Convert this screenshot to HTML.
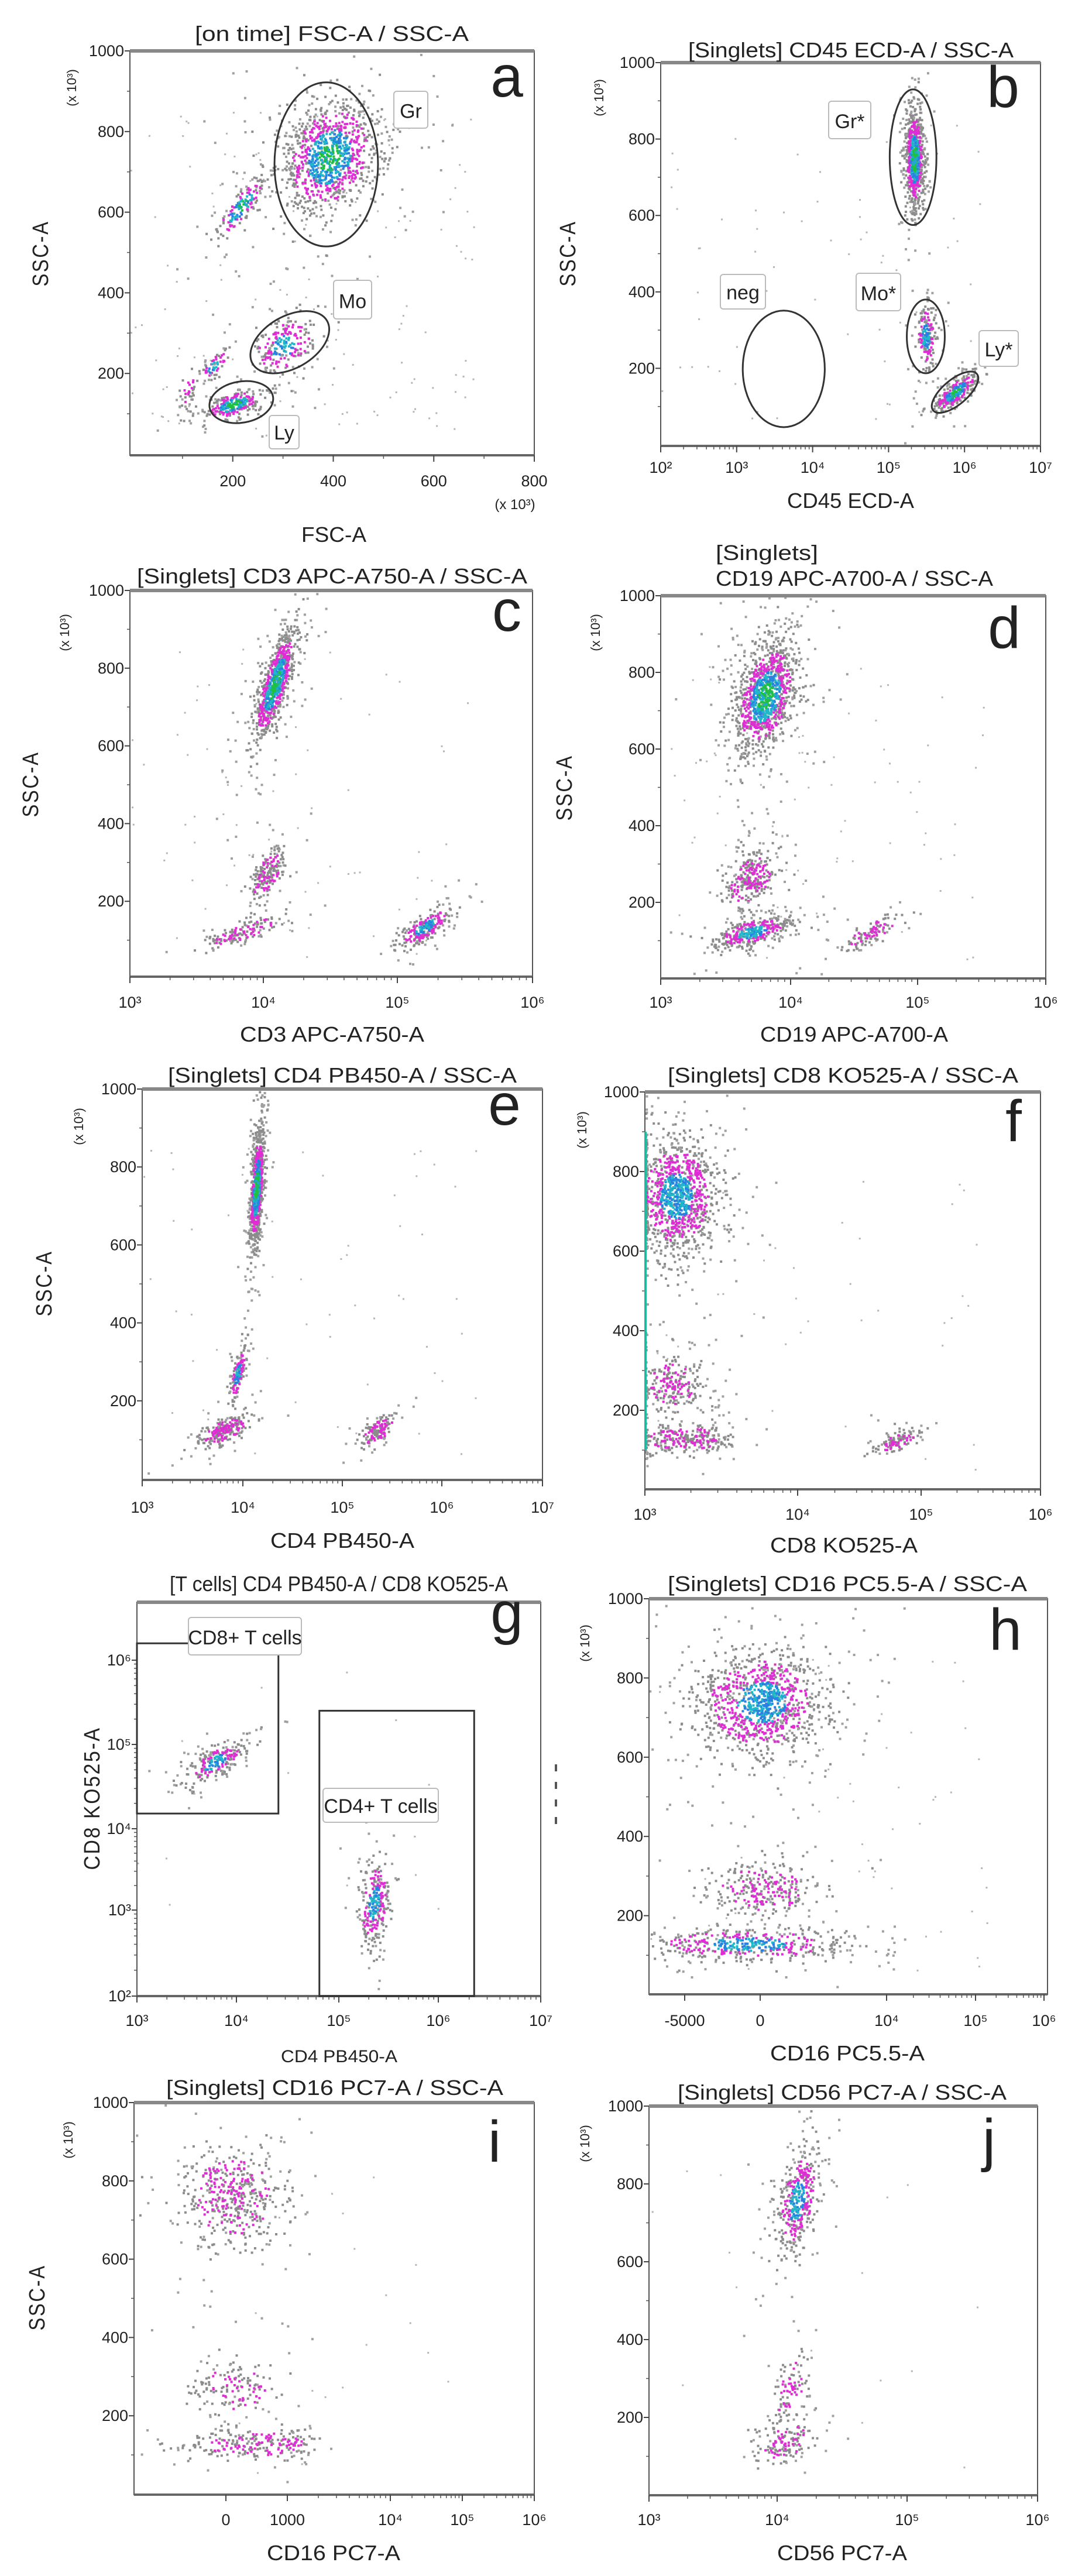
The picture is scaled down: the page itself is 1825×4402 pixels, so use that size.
<!DOCTYPE html>
<html><head><meta charset="utf-8"><title>Flow cytometry panels</title>
<style>
html,body{margin:0;padding:0;background:#fff;}
svg{display:block;}
text{font-family:"Liberation Sans Narrow","Liberation Sans",sans-serif;fill:#222;}
</style></head>
<body>
<svg id="fig" xmlns="http://www.w3.org/2000/svg" width="1825" height="4402" viewBox="0 0 1825 4402">
<rect x="0" y="0" width="1825" height="4402" fill="#fff"/>
</svg>
<script>
// ---------- DATA (cluster centres / spreads / counts per panel) ----------
const aCx=[390,215,160,110,300,200];
const aCy=[740,615,220,150,270,125];
const aSx=[45,14,10,10,30,24];
const aSy=[70,38,20,30,35,18];
const aN=[1100,170,60,40,230,270];
const aHeat=[3,3,2,1,2,3];
const aTilt=[0.2,1.5,1,0.5,0.3,0.6];
const bCx=[5.33,5.48,5.87];
const bCy=[750,285,140];
const bSx=[0.06,0.06,0.09];
const bSy=[65,40,25];
const bN=[800,200,300];
const bHeat=[3,2,3];
const bTilt=[0,0,1.2];
const cCx=[4.08,4.02,3.85,5.2];
const cCy=[760,270,125,135];
const cSx=[0.05,0.05,0.09,0.06];
const cSy=[70,35,20,25];
const cN=[900,200,150,250];
const cHeat=[3,1,1,2];
const cTilt=[1.2,0.8,1.2,1.2];
const dCx=[3.8,3.68,3.7,4.63];
const dCy=[740,260,125,125];
const dSx=[0.11,0.09,0.12,0.07];
const dSy=[70,40,20,22];
const dN=[1200,300,400,120];
const dHeat=[3,1,2,1];
const dTilt=[0.4,0.3,0.6,1.2];
const eCx=[4.13,3.94,3.8,5.35];
const eCy=[750,270,125,125];
const eSx=[0.03,0.03,0.1,0.07];
const eSy=[75,35,20,20];
const eN=[900,150,250,150];
const eHeat=[3,2,1,1];
const eTilt=[0.6,1,0.8,0.8];
const fCx=[3.2,3.18,3.25,4.8];
const fCy=[740,265,130,125];
const fSx=[0.13,0.1,0.14,0.07];
const fSy=[70,35,18,15];
const fN=[1200,250,300,120];
const fHeat=[2,1,1,1];
const fTilt=[0,0,0,0.8];
const gCx=[3.78,5.35];
const gCy=[4.8,3.1];
const gSx=[0.1,0.07];
const gSy=[0.12,0.25];
const gN=[250,300];
const gHeat=[2,2];
const gTilt=[1,0.3];
const hCx=[200,300,-800];
const hCy=[740,270,130];
const hSx=[2200,1800,3500];
const hSy=[65,35,20];
const hN=[1200,300,500];
const hHeat=[2,1,2];
const hTilt=[0,0,0];
const iCx=[100,100,500];
const iCy=[760,275,130];
const iSx=[400,330,600];
const iSy=[60,35,18];
const iN=[500,150,250];
const iHeat=[1,1,1];
const iTilt=[0,0,0];
const jCx=[4.15,4.1,4.05];
const jCy=[760,275,140];
const jSx=[0.07,0.06,0.1];
const jSy=[65,45,30];
const jN=[450,100,150];
const jHeat=[2,1,1];
const jTilt=[0.5,0.5,0.5];
const linYTicks=[200,400,600,800,1000];
const aXTicks=[200,400,600,800];
const supDigits={2:'²',3:'³',4:'⁴',5:'⁵',6:'⁶',7:'⁷'};
const hXTickVals=[-5000,0,1e4,1e5,1e6];
const hXTickLabels=['-5000','0','10⁴','10⁵','10⁶'];
const iXTickVals=[0,1000,1e4,1e5,1e6];
const iXTickLabels=['0','1000','10⁴','10⁵','10⁶'];

const NS='http://www.w3.org/2000/svg';
const svg=document.getElementById('fig');
function el(tag,parent,attrs){const e=document.createElementNS(NS,tag);for(const k in attrs)e.setAttribute(k,attrs[k]);parent.appendChild(e);return e;}
function interp(tk,px){return function(t){let i=0;while(i<tk.length-2&&t>tk[i+1])i++;return px[i]+(t-tk[i])*(px[i+1]-px[i])/(tk[i+1]-tk[i]);};}
let seed=12345;
function rnd(){seed|=0;seed=seed+0x6D2B79F5|0;let t=Math.imul(seed^seed>>>15,1|seed);t=t+Math.imul(t^t>>>7,61|t)^t;return((t^t>>>14)>>>0)/4294967296;}
function gauss(){let u=0,v=0;while(u===0)u=rnd();while(v===0)v=rnd();return Math.sqrt(-2*Math.log(u))*Math.cos(2*Math.PI*v);}
const hTf=v=>v<=1e4?v/1e4:Math.log10(v)-3;
const iTf=v=>v<=1000?v/1000:Math.log10(v)-2;

const P={
 a:{L:222,R:913,T:87,B:778,x:interp([0,800],[226,913]),y:interp([0,1000],[776,87]),tf:v=>v},
 b:{L:1129,R:1778,T:107,B:762,x:interp([2,7],[1129,1778]),y:interp([0,1000],[760,107]),tf:v=>v},
 c:{L:222,R:910,T:1009,B:1669,x:interp([3,4,5,6],[222,450,679,910]),y:interp([0,1000],[1673,1009]),tf:v=>v},
 d:{L:1129,R:1787,T:1018,B:1672,x:interp([3,4,5,6],[1129,1351,1568,1787]),y:interp([0,1000],[1673,1018]),tf:v=>v},
 e:{L:243,R:927,T:1861,B:2529,x:interp([3,4,5,6,7],[243,415,585,755,927]),y:interp([0,1000],[2527,1861]),tf:v=>v},
 f:{L:1102,R:1778,T:1866,B:2545,x:interp([3,4,5,6],[1102,1363,1574,1778]),y:interp([0,1000],[2546,1866]),tf:v=>v},
 g:{L:234,R:924,T:2738,B:3411,x:interp([3,4,5,6,7],[234,404,579,749,924]),y:interp([2,3,4,5,6],[3411,3264,3125,2981,2837]),tf:v=>v},
 h:{L:1109,R:1790,T:2732,B:3408,x:interp([-0.5,0,1,2,3],[1170,1299,1515,1667,1784]),y:interp([0,1000],[3409,2732]),tf:hTf},
 i:{L:229,R:913,T:3593,B:4263,x:interp([0,1,2,3,4],[386,491,667,790,913]),y:interp([0,1000],[4262,3593]),tf:iTf},
 j:{L:1109,R:1773,T:3599,B:4264,x:interp([3,4,5,6],[1109,1328,1550,1773]),y:interp([0,1000],[4264,3599]),tf:v=>v}
};
const DATA={
 a:[aCx,aCy,aSx,aSy,aN,aHeat,aTilt,150],b:[bCx,bCy,bSx,bSy,bN,bHeat,bTilt,70],
 c:[cCx,cCy,cSx,cSy,cN,cHeat,cTilt,75],d:[dCx,dCy,dSx,dSy,dN,dHeat,dTilt,75],
 e:[eCx,eCy,eSx,eSy,eN,eHeat,eTilt,60],f:[fCx,fCy,fSx,fSy,fN,fHeat,fTilt,40],
 g:[gCx,gCy,gSx,gSy,gN,gHeat,gTilt,15],h:[hCx,hCy,hSx,hSy,hN,hHeat,hTilt,55],
 i:[iCx,iCy,iSx,iSy,iN,iHeat,iTilt,20],j:[jCx,jCy,jSx,jSy,jN,jHeat,jTilt,15]
};

function colorFor(r,heat){
 if(heat>=3&&r<0.5)return rnd()<0.7?'#20c040':'#20a8d0';
 if(heat>=2&&r<(heat>=3?0.95:0.8))return rnd()<0.5?'#2a80e0':'#20b8c8';
 if(r<1.6&&rnd()<(heat>=2?0.7:0.45))return '#e02cd4';
 return '#8c8c8c';
}

for(const k in P){
 const p=P[k];const D=DATA[k];
 const g=el('g',svg,{});
 
 
 const dots=el('g',g,{});
 
 
 const [cx,cy,sx,sy,n,heat,tilt,bg]=D;
 for(let q=0;q<bg;q++){
  const X=p.L+rnd()*(p.R-p.L)*0.85,Y=p.T+(p.B-p.T)*(0.15+rnd()*0.8);
  const d=el('rect',dots,{x:X.toFixed(1),y:Y.toFixed(1),width:3,height:3,fill:'#b5b5b5'});
  
  
 }
 for(let c=0;c<cx.length;c++){
  const frag=[];
  for(let q=0;q<n[c];q++){
   const halo=rnd()<0.18;const m=halo?2.1:1;
   const g1=gauss(),g2=gauss();
   let vx=cx[c]+sx[c]*m*(g1+tilt[c]*g2);
   let vy=cy[c]+sy[c]*m*g2;
   let X=p.x(p.tf(vx)),Y=p.y(vy);
   if(k==='f'&&X<p.L)X=p.L+rnd()*3;
   if(X<p.L||X>p.R-3||Y<p.T||Y>p.B-3)continue;
   const col=halo?'#a0a0a0':colorFor(Math.sqrt(g1*g1+g2*g2),heat[c]);
   frag.push({X,Y,col});
  }
  const order={'#a0a0a0':0,'#8c8c8c':0,'#e02cd4':1,'#2a80e0':2,'#20b8c8':2,'#20c040':3,'#20a8d0':3};
  frag.sort((u,v)=>order[u.col]-order[v.col]);
  const cg=el('g',dots,{});
  
  
  for(const f of frag){
   const d=el('rect',cg,{x:f.X.toFixed(1),y:f.Y.toFixed(1),width:4,height:4,fill:f.col});
   
   
  }
 }
 const fr=el('rect',g,{x:p.L,y:p.T,width:p.R-p.L,height:p.B-p.T,fill:'none',stroke:'#555','stroke-width':2});
 
 
 const tl=el('line',g,{x1:p.L,y1:p.T,x2:p.R,y2:p.T,stroke:'#888','stroke-width':6});
 
 
 const bl=el('line',g,{x1:p.L,y1:p.B,x2:p.R,y2:p.B,stroke:'#666','stroke-width':4});
 
 
}

function ytxt(p,val,lab,name){
 const Y=p.y(val);
 const t=el('line',svg,{x1:p.L-9,y1:Y,x2:p.L,y2:Y,stroke:'#444','stroke-width':2});
 
 
 const tx=el('text',svg,{x:p.L-10,y:Y+9,'text-anchor':'end','font-size':27});
 tx.textContent=lab;
 
 
}
function xtxt(p,X,lab,base){
 const t=el('line',svg,{x1:X,y1:p.B,x2:X,y2:p.B+11,stroke:'#444','stroke-width':2});
 
 
 const tx=el('text',svg,{x:X,y:base,'text-anchor':'middle','font-size':27});
 tx.textContent=lab;
 
 
}
function minorX(p,X){const m=el('line',svg,{x1:X,y1:p.B,x2:X,y2:p.B+6,stroke:'#555','stroke-width':1.5});}
const tickBase={a:831,b:808,c:1722,d:1722,e:2585,f:2597,g:3462,h:3462,i:4315,j:4315};
for(const k in P){
 const p=P[k];
 if(k!=='g'){
  for(let v=100;v<1000;v+=200){const Y=p.y(v);const m=el('line',svg,{x1:p.L-5,y1:Y,x2:p.L,y2:Y,stroke:'#555','stroke-width':1.5});}
  for(const v of linYTicks)ytxt(p,v,String(v),'y-tick-label');
 }
}
for(let e=2;e<=6;e++){ytxt(P.g,e,'10'+supDigits[e],'y-tick-label');
 if(e<6)for(let m=2;m<10;m++){const Y=P.g.y(e+Math.log10(m));const t=el('line',svg,{x1:P.g.L-5,y1:Y,x2:P.g.L,y2:Y,stroke:'#555','stroke-width':1.5});}}
for(const v of aXTicks)xtxt(P.a,P.a.x(v),String(v),tickBase.a);
for(let v=100;v<800;v+=200)minorX(P.a,P.a.x(v));
const logRanges={b:[2,7],c:[3,6],d:[3,6],e:[3,7],f:[3,6],g:[3,7],j:[3,6]};
for(const k in logRanges){
 const p=P[k],[lo,hi]=logRanges[k];
 for(let e=lo;e<=hi;e++){
  xtxt(p,p.x(e),'10'+supDigits[e],tickBase[k]);
  if(e<hi)for(let m=2;m<10;m++)minorX(p,p.x(e+Math.log10(m)));
 }
}
hXTickVals.forEach((v,i)=>xtxt(P.h,P.h.x(hTf(v)),hXTickLabels[i],tickBase.h));
for(let e=4;e<6;e++)for(let m=2;m<10;m++)minorX(P.h,P.h.x(hTf(m*Math.pow(10,e))));
iXTickVals.forEach((v,i)=>xtxt(P.i,P.i.x(iTf(v)),iXTickLabels[i],tickBase.i));
for(let e=3;e<6;e++)for(let m=2;m<10;m++)minorX(P.i,P.i.x(iTf(m*Math.pow(10,e))));

function gate(k,x0,x1,y0,y1,rot,name){
 const p=P[k];const X0=p.x(x0),X1=p.x(x1),Y0=p.y(y0),Y1=p.y(y1);
 const cxp=(X0+X1)/2,cyp=(Y0+Y1)/2;
 const e=el('ellipse',svg,{cx:cxp,cy:cyp,rx:Math.abs(X1-X0)/2,ry:Math.abs(Y1-Y0)/2,fill:'none',stroke:'#333','stroke-width':3,transform:'rotate('+rot+' '+cxp+' '+cyp+')'});
 
 
}
gate('a',283,489,515,922,0,'gate-gr');
gate('a',228,399,213,342,-30,'gate-mo');
gate('a',153,281,78,180,-10,'gate-ly');
gate('b',5.015,5.63,575,930,0,'gate-gr-star');
gate('b',5.24,5.74,187,380,0,'gate-mo-star');
gate('b',5.5,6.25,105,170,-40,'gate-ly-star');
gate('b',3.08,4.16,46,351,0,'gate-neg');
function rectGate(k,x0,x1,y0,y1,name){
 const p=P[k];const X0=p.x(x0),X1=p.x(x1),Y0=p.y(y0),Y1=p.y(y1);
 const r=el('rect',svg,{x:Math.min(X0,X1),y:Math.min(Y0,Y1),width:Math.abs(X1-X0),height:Math.abs(Y1-Y0),fill:'none',stroke:'#333','stroke-width':3});
 
 
}
rectGate('g',3,4.41,4.18,6.2,'gate-cd8-t-cells');
rectGate('g',4.81,6.35,2,5.4,'gate-cd4-t-cells');
function label(x,y,w,h,txt,name){
 const r=el('rect',svg,{x:x,y:y,width:w,height:h,rx:5,fill:'#fff',stroke:'#bbb','stroke-width':2});
 
 
 const t=el('text',svg,{x:x+w/2,y:y+h*0.72,'text-anchor':'middle','font-size':Math.min(34,h*0.6)});
 t.textContent=txt;
 
 
}
label(673,156,58,63,'Gr','label-gr');
label(570,479,65,66,'Mo','label-mo');
label(460,710,51,57,'Ly','label-ly');
label(1416,173,72,64,'Gr*','label-gr-star');
label(1231,469,77,59,'neg','label-neg');
label(1463,467,76,64,'Mo*','label-mo-star');
label(1673,565,67,61,'Ly*','label-ly-star');
label(322,2764,193,64,'CD8+ T cells','label-cd8-t-cells');
label(552,3056,197,58,'CD4+ T cells','label-cd4-t-cells');

function T(x,y,txt,fs,name,opts){
 const a={x:x,y:y,'font-size':fs};Object.assign(a,opts||{});
 const t=el('text',svg,a);t.textContent=txt;
 
 return t;
}
const SA={lengthAdjust:'spacingAndGlyphs'};
function titled(x,y,w,txt,name,fs){T(x,y,txt,fs||36,name,Object.assign({textLength:w},SA));}
titled(333,70,468,'[on time] FSC-A / SSC-A','title-a');
titled(1176,98,556,'[Singlets] CD45 ECD-A / SSC-A','title-b');
titled(234,997,667,'[Singlets] CD3 APC-A750-A / SSC-A','title-c');
titled(1223,957,175,'[Singlets]','title-d-line1');
titled(1223,1001,474,'CD19 APC-A700-A / SSC-A','title-d-line2');
titled(287,1850,596,'[Singlets] CD4 PB450-A / SSC-A','title-e');
titled(1141,1850,599,'[Singlets] CD8 KO525-A / SSC-A','title-f');
titled(290,2719,578,'[T cells] CD4 PB450-A / CD8 KO525-A','title-g');
titled(1141,2719,614,'[Singlets] CD16 PC5.5-A / SSC-A','title-h');
titled(284,3580,576,'[Singlets] CD16 PC7-A / SSC-A','title-i');
titled(1158,3588,562,'[Singlets] CD56 PC7-A / SSC-A','title-j');
titled(515,926,111,'FSC-A','x-axis-title-a');
titled(1345,868,217,'CD45 ECD-A','x-axis-title-b');
titled(410,1780,315,'CD3 APC-A750-A','x-axis-title-c');
titled(1299,1780,321,'CD19 APC-A700-A','x-axis-title-d');
titled(462,2645,246,'CD4 PB450-A','x-axis-title-e');
titled(1316,2653,252,'CD8 KO525-A','x-axis-title-f');
titled(480,3524,199,'CD4 PB450-A','x-axis-title-g',30);
titled(1316,3521,264,'CD16 PC5.5-A','x-axis-title-h');
titled(456,4375,228,'CD16 PC7-A','x-axis-title-i');
titled(1328,4375,222,'CD56 PC7-A','x-axis-title-j');
T(880,870,'(x 10³)',24,'x-axis-unit-a',{'text-anchor':'middle'});
function ylab(x,y,len,txt,name){T(x,y,txt,38,name,{transform:'rotate(-90 '+x+' '+y+')','text-anchor':'middle',textLength:len,lengthAdjust:'spacingAndGlyphs','font-family':'"Liberation Sans",sans-serif','letter-spacing':'3'});}
ylab(82,433,113,'SSC-A','y-axis-title-a');
ylab(983,433,113,'SSC-A','y-axis-title-b');
ylab(65,1340,113,'SSC-A','y-axis-title-c');
ylab(977,1346,113,'SSC-A','y-axis-title-d');
ylab(88,2193,113,'SSC-A','y-axis-title-e');
ylab(170,3073,245,'CD8 KO525-A','y-axis-title-g');
ylab(76,3926,113,'SSC-A','y-axis-title-i');
function unit(x,y,name){T(x,y,'(x 10³)',22,name,{transform:'rotate(-90 '+x+' '+y+')','text-anchor':'middle'});}
unit(130,150,'y-unit-a');unit(1031,167,'y-unit-b');unit(118,1081,'y-unit-c');unit(1025,1081,'y-unit-d');
unit(142,1925,'y-unit-e');unit(1002,1931,'y-unit-f');unit(1007,2808,'y-unit-h');unit(124,3657,'y-unit-i');unit(1007,3663,'y-unit-j');
const dm=el('line',svg,{x1:950,y1:3015,x2:950,y2:3120,stroke:'#555','stroke-width':4,'stroke-dasharray':'12 18'});


const fl=el('line',svg,{x1:P.f.L+1,y1:P.f.y(900),x2:P.f.L+1,y2:P.f.y(100),stroke:'#20b8a0','stroke-width':4});


const letters=[['a',866,165],['b',1714,183],['c',866,1078],['d',1716,1107],['e',862,1922],['f',1732,1950],['g',866,2790],['h',1718,2819],['i',845,3694],['j',1690,3691]];
for(const [L,x,y] of letters){T(x,y,L,100,'panel-letter-'+L,{'text-anchor':'middle','font-family':'"Liberation Sans",sans-serif',fill:'#000'});}
</script>
</body></html>
